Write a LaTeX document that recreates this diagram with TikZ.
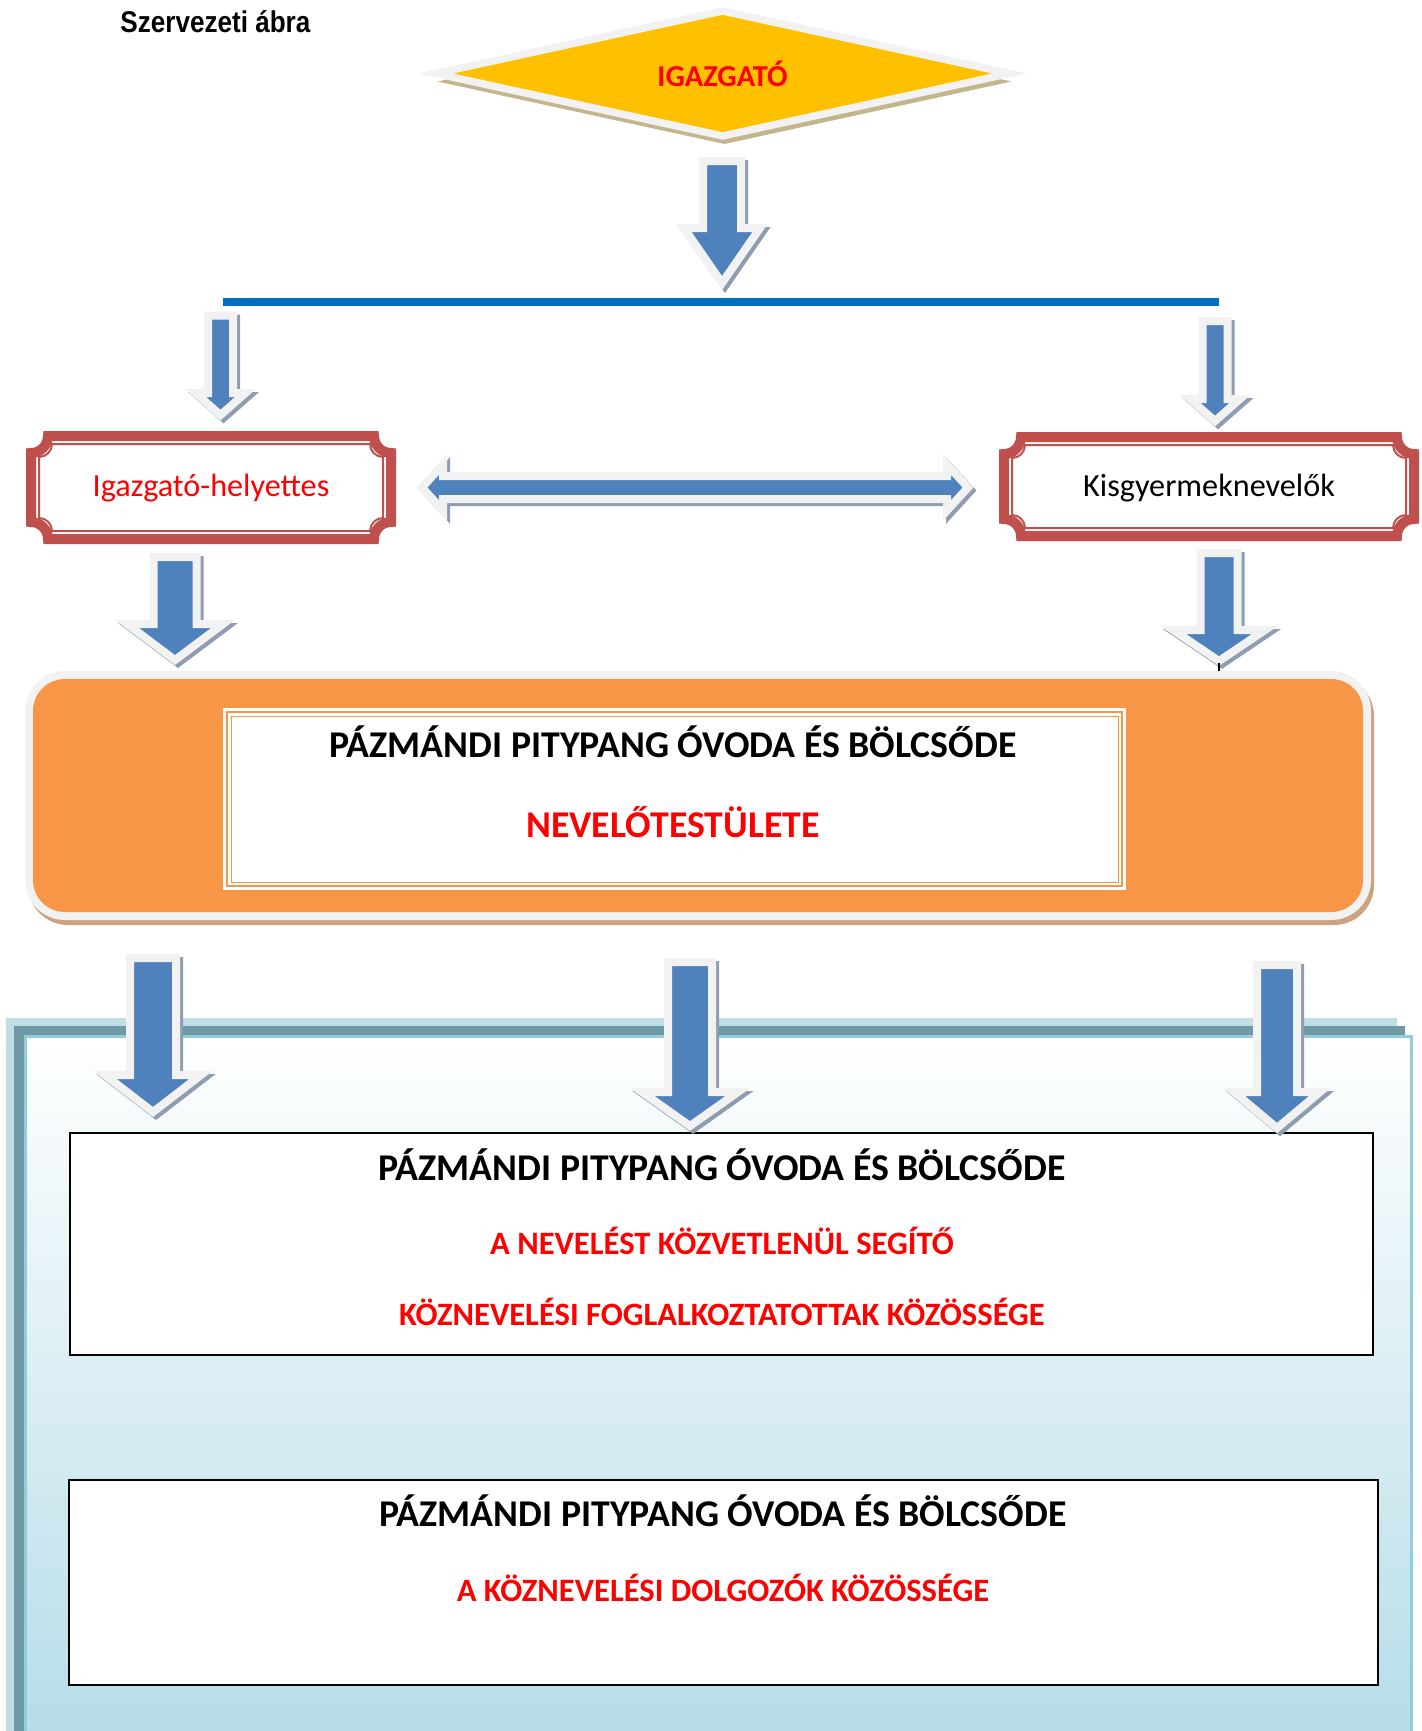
\documentclass[tikz,border=0pt]{standalone}
\usepackage{fontspec}
\setmainfont{Carlito}
\newfontfamily\titlefont[FakeStretch=0.87]{Liberation Sans}
\usetikzlibrary{shapes.geometric,shadows}

\definecolor{arrblue}{RGB}{79,129,189}
\definecolor{arredge}{RGB}{242,242,242}
\definecolor{arrshade}{RGB}{143,157,176}
\definecolor{gold}{RGB}{255,192,0}
\definecolor{diamshade}{RGB}{196,182,140}
\definecolor{busblue}{RGB}{0,112,192}
\definecolor{framered}{RGB}{192,80,77}
\definecolor{textred}{RGB}{255,0,0}
\definecolor{orangefill}{RGB}{247,150,70}
\definecolor{orangeshade}{RGB}{205,162,128}
\definecolor{bandlight}{RGB}{192,222,230}
\definecolor{bandteal}{RGB}{111,154,165}
\definecolor{panelblue}{RGB}{183,221,232}
\definecolor{paneledge}{RGB}{146,205,220}

% block arrow down: centre x, top, head base, tip, half shaft, half head
\newcommand{\downblock}[6]{%
  \path[arrshadow, shift={(3,3)}] (#1-#5,#2) -- (#1+#5,#2) -- (#1+#5,#3) -- (#1+#6,#3) -- (#1,#4) -- (#1-#6,#3) -- (#1-#5,#3) -- cycle;
  \path[arrbody] (#1-#5,#2) -- (#1+#5,#2) -- (#1+#5,#3) -- (#1+#6,#3) -- (#1,#4) -- (#1-#6,#3) -- (#1-#5,#3) -- cycle;}
% block arrow both ways: centre y, left tip, left base, right base, right tip, half shaft, half head
\newcommand{\lrblock}[7]{%
  \path[arrshadow, shift={(3,3)}] (#2,#1) -- (#3,#1-#7) -- (#3,#1-#6) -- (#4,#1-#6) -- (#4,#1-#7) -- (#5,#1) -- (#4,#1+#7) -- (#4,#1+#6) -- (#3,#1+#6) -- (#3,#1+#7) -- cycle;
  \path[arrbody] (#2,#1) -- (#3,#1-#7) -- (#3,#1-#6) -- (#4,#1-#6) -- (#4,#1-#7) -- (#5,#1) -- (#4,#1+#7) -- (#4,#1+#6) -- (#3,#1+#6) -- (#3,#1+#7) -- cycle;}
% frame with hollow corners
\newcommand{\plaque}[5]{(#1+#5,#2) -- (#3-#5,#2) .. controls (#3-#5,#2+0.55*#5) and (#3-0.55*#5,#2+#5) .. (#3,#2+#5) -- (#3,#4-#5) .. controls (#3-0.55*#5,#4-#5) and (#3-#5,#4-0.55*#5) .. (#3-#5,#4) -- (#1+#5,#4) .. controls (#1+#5,#4-0.55*#5) and (#1+0.55*#5,#4-#5) .. (#1,#4-#5) -- (#1,#2+#5) .. controls (#1+0.55*#5,#2+#5) and (#1+#5,#2+0.55*#5) .. cycle}

\begin{document}
\begin{tikzpicture}[x=0.5pt, y=-0.5pt,
    arrbody/.style={fill=arrblue, draw=arredge, line width=4pt},
    arrshadow/.style={fill=arrshade, draw=arrshade, line width=4pt},
    framebox/.style={fill=white, draw=framered, line width=5pt},
    frameline/.style={draw=framered, line width=1pt},
    bigtitle/.style={font=\fontsize{18.9}{22}\selectfont\bfseries, inner sep=0pt},
    redtext/.style={font=\fontsize{16.3}{19}\selectfont\bfseries, text=textred, inner sep=0pt},
    frametext/.style={font=\fontsize{16.1}{19}\selectfont, inner sep=0pt}]
    \useasboundingbox (0,0) rectangle (1422,1731);

    \node[anchor=base west, inner sep=0pt, font=\titlefont\bfseries\fontsize{15}{18}\selectfont] (cim) at (120,32) {Szervezeti ábra};

    % igazgato
    \node[diamond, aspect=4.5, minimum width=288.5pt, minimum height=64pt, inner sep=0pt,
          fill=gold, draw=arredge, line width=3.7pt,
          drop shadow={shadow xshift=1pt, shadow yshift=-4pt, fill=diamshade, opacity=1},
          font=\fontsize{15.2}{17}\selectfont\bfseries, text=textred] (igazgato) at (722.5,73.5) {IGAZGATÓ};
    \downblock{722}{161}{228}{283}{19}{38}
    \coordinate (busL) at (223,302);
    \coordinate (busR) at (1219,302);
    \draw[busblue, line width=4pt] (busL) -- (busR);
    \downblock{220.5}{315.5}{393}{415}{12.5}{25}
    \downblock{1215}{321}{399}{421}{12.5}{25}

    % helyettes, kisgyermeknevelok
    \filldraw[framebox] \plaque{31}{436}{391}{539}{17};
    \draw[frameline] \plaque{39}{444}{383}{531}{13};
    \node[frametext, text=textred, anchor=base] (helyettes) at (211,496) {Igazgató-helyettes};
    \filldraw[framebox] \plaque{1004}{437}{1414}{536}{17};
    \draw[frameline] \plaque{1012}{445}{1406}{528}{13};
    \node[frametext, anchor=base] (kisgy) at (1209,496) {Kisgyermeknevelők};
    \lrblock{487.5}{422}{443}{947}{968}{11.5}{23}

    % nevelotestulet
    \fill[orangeshade, rounded corners=20pt] (28,676) rectangle (1374,925);
    \fill[arredge, rounded corners=20pt] (25,671) rectangle (1371,920);
    \fill[orangefill, rounded corners=16pt] (33,679) rectangle (1363,912);
    \fill[white] (223,708) rectangle (1126,890);
    \draw[orangefill, line width=1.2pt] (227,712) rectangle (1122,886);
    \draw[orangefill, line width=0.5pt] (231,716) rectangle (1118,882);
    \node[bigtitle, anchor=base] (nevtitle) at (673,757) {PÁZMÁNDI PITYPANG ÓVODA ÉS BÖLCSŐDE};
    \node[bigtitle, text=textred, anchor=base] (nevtest) at (673,837) {NEVELŐTESTÜLETE};
    \downblock{175}{557}{624}{660}{21.5}{48}
    \downblock{1219}{553}{630}{661}{18.5}{46}
    \draw[black, line width=0.6pt] (1219,663) -- (1219,671);

    % kozosseg panel
    \fill[bandlight] (6,1018) rectangle (1397,1731);
    \fill[bandteal] (14,1026) rectangle (1405,1731);
    \shade[top color=white, bottom color=panelblue] (25,1036) rectangle (1411,1731);
    \draw[paneledge, line width=1.5pt] (25,1740) -- (25,1036) -- (1411,1036) -- (1411,1740);

    \filldraw[fill=white, draw=black, line width=1.25pt] (70,1133) rectangle (1373,1355);
    \node[bigtitle, anchor=base] (segtitle) at (722,1180) {PÁZMÁNDI PITYPANG ÓVODA ÉS BÖLCSŐDE};
    \node[redtext, anchor=base] (seg1) at (722,1254) {A NEVELÉST KÖZVETLENÜL SEGÍTŐ};
    \node[redtext, anchor=base] (seg2) at (722,1325) {KÖZNEVELÉSI FOGLALKOZTATOTTAK KÖZÖSSÉGE};

    \filldraw[fill=white, draw=black, line width=1.25pt] (69,1480) rectangle (1378,1685);
    \node[bigtitle, anchor=base] (dolgtitle) at (723,1526) {PÁZMÁNDI PITYPANG ÓVODA ÉS BÖLCSŐDE};
    \node[redtext, anchor=base] (dolg) at (723,1601) {A KÖZNEVELÉSI DOLGOZÓK KÖZÖSSÉGE};

    \downblock{153}{958}{1075}{1112}{23}{48}
    \downblock{690}{962}{1092}{1126}{22}{48}
    \downblock{1277}{965}{1092}{1128}{20}{43}
\end{tikzpicture}
\end{document}
